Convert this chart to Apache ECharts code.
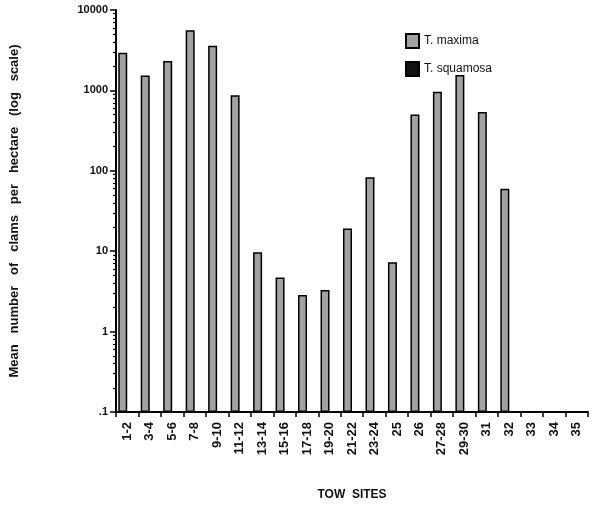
<!DOCTYPE html>
<html>
<head>
<meta charset="utf-8">
<script src="https://cdn.jsdelivr.net/npm/echarts@6/dist/echarts.min.js"></script>
<style>html,body{margin:0;padding:0;background:#fff}#c{width:600px;height:506px}</style>
</head>
<body>
<div id="c"></div>
<script>
var categories = ['1-2','3-4','5-6','7-8','9-10','11-12','13-14','15-16','17-18','19-20','21-22','23-24','25','26','27-28','29-30','31','32','33','34','35'];
var maximaValues = [2950, 1530, 2320, 5600, 3600, 870, 9.7, 4.7, 2.85, 3.3, 19.2, 83, 7.3, 500, 960, 1550, 540, 60, null, null, null];
var squamosaValues = [null, null, null, null, null, null, null, null, null, null, null, null, null, null, null, null, null, null, null, null, null];
var yTickValues = [0.1, 1, 10, 100, 1000, 10000];
var yTickLabels = ['.1', '1', '10', '100', '1000', '10000'];
var yMinorMultipliers = [2, 3, 4, 5, 6, 7, 8, 9];

var minorValues = [];
for (var i = 0; i < yTickValues.length - 1; i++) {
  for (var j = 0; j < yMinorMultipliers.length; j++) {
    minorValues.push(parseFloat((yTickValues[i] * yMinorMultipliers[j]).toPrecision(6)));
  }
}

var chart = echarts.init(document.getElementById('c'), null, {renderer: 'canvas'});
var font = 'Liberation Sans, Arial, Helvetica, sans-serif';
chart.setOption({
  animation: false,
  backgroundColor: '#fff',
  textStyle: {fontFamily: font},
  grid: {left: 115, right: 12, top: 10, bottom: 91},
  legend: {
    orient: 'vertical',
    left: 400, top: 28,
    itemWidth: 13, itemHeight: 14, itemGap: 12,
    icon: 'rect',
    textStyle: {fontSize: 12, color: '#111', fontFamily: font},
    data: ['T. maxima', 'T. squamosa']
  },
  xAxis: {
    type: 'category',
    data: categories,
    name: 'TOW  SITES',
    nameLocation: 'middle',
    nameGap: 77,
    nameTextStyle: {fontSize: 12, fontWeight: 'bold', color: '#111'},
    axisLine: {lineStyle: {color: '#000', width: 2}},
    axisTick: {show: true, length: 5, interval: 0, lineStyle: {color: '#000', width: 1.5}},
    axisLabel: {rotate: 90, interval: 0, fontSize: 13, fontWeight: 'bold', color: '#111', margin: 10},
    splitLine: {show: false}
  },
  yAxis: [{
    type: 'log',
    logBase: 10,
    min: 0.1, max: 10000,
    startValue: 0.1,
    name: 'Mean   number   of   clams   per   hectare   (log   scale)',
    nameLocation: 'middle',
    nameRotate: 90,
    nameGap: 95,
    nameTextStyle: {fontSize: 13, fontWeight: 'bold', color: '#111'},
    axisLine: {show: true, lineStyle: {color: '#000', width: 2}},
    axisTick: {show: true, length: 6, customValues: yTickValues, lineStyle: {color: '#000', width: 1.5}},
    axisLabel: {
      customValues: yTickValues,
      fontSize: 11, fontWeight: 'bold', color: '#111', margin: 8,
      formatter: function (v) {
        var k = Math.round(Math.log10(v)) + 1;
        return yTickLabels[k] !== undefined ? yTickLabels[k] : '';
      }
    },
    splitLine: {show: false}
  }, {
    type: 'log',
    logBase: 10,
    min: 0.1, max: 10000,
    position: 'left',
    offset: 0,
    axisLine: {show: false},
    axisTick: {show: true, length: 3, customValues: minorValues, lineStyle: {color: '#000', width: 1.2}},
    axisLabel: {show: false},
    splitLine: {show: false}
  }],
  series: [{
    name: 'T. maxima',
    type: 'bar',
    data: maximaValues,
    barWidth: 9,
    barGap: '0%',
    itemStyle: {color: '#a2a2a2', borderColor: '#000', borderWidth: 1.5}
  }, {
    name: 'T. squamosa',
    type: 'bar',
    data: squamosaValues,
    barWidth: 9,
    itemStyle: {color: '#111', borderColor: '#000', borderWidth: 1.5}
  }]
});
</script>
</body>
</html>
